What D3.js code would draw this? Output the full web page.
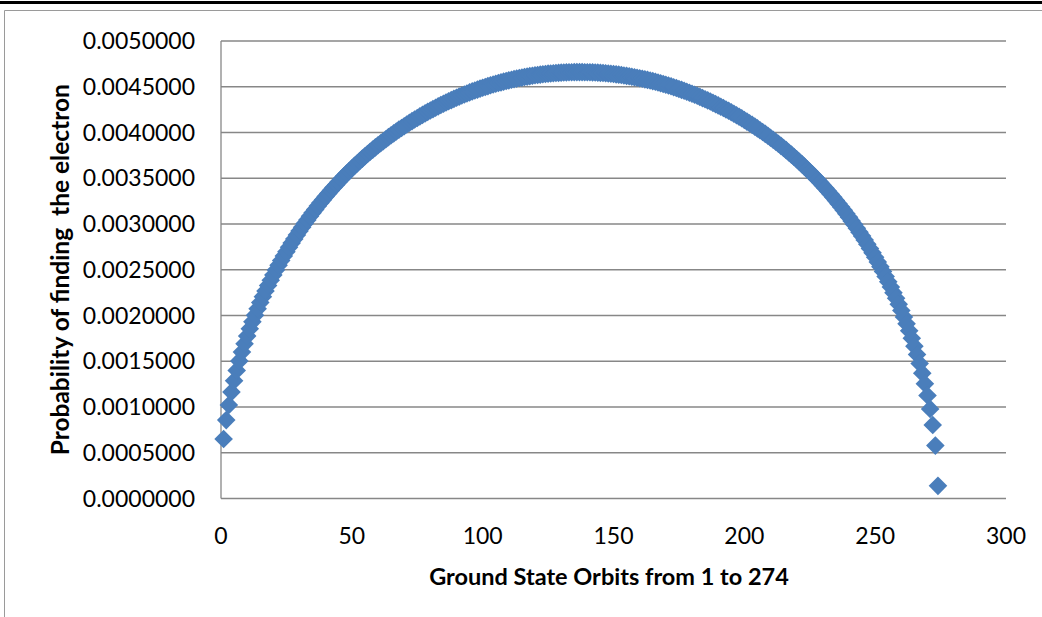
<!DOCTYPE html>
<html>
<head>
<meta charset="utf-8">
<script src="https://cdn.jsdelivr.net/npm/d3@7"></script>
<style>
  body { margin: 0; background: #fff; }
  text { font-family: Lato, "Open Sans", sans-serif; fill: #000; }
</style>
</head>
<body>
<div id="chart"></div>
<script>
// orbit number 1..274 on the x axis
const orbits = d3.range(1, 275)

// probability, orbit 1 to 274
const probability = [
  0.000650, 0.000857, 0.001022, 0.001163, 0.001287, 0.001400, 0.001504, 0.001600, 0.001690, 0.001775,
  0.001855, 0.001931, 0.002004, 0.002074, 0.002141, 0.002206, 0.002268, 0.002328, 0.002386, 0.002442,
  0.002496, 0.002549, 0.002600, 0.002650, 0.002698, 0.002745, 0.002791, 0.002836, 0.002880, 0.002923,
  0.002964, 0.003005, 0.003045, 0.003084, 0.003122, 0.003159, 0.003196, 0.003231, 0.003266, 0.003300,
  0.003334, 0.003367, 0.003399, 0.003430, 0.003461, 0.003492, 0.003521, 0.003551, 0.003579, 0.003607,
  0.003635, 0.003662, 0.003688, 0.003714, 0.003740, 0.003765, 0.003789, 0.003813, 0.003837, 0.003860,
  0.003883, 0.003905, 0.003927, 0.003949, 0.003970, 0.003990, 0.004011, 0.004031, 0.004050, 0.004069,
  0.004088, 0.004106, 0.004124, 0.004142, 0.004159, 0.004176, 0.004193, 0.004209, 0.004225, 0.004241,
  0.004256, 0.004271, 0.004286, 0.004300, 0.004314, 0.004328, 0.004341, 0.004354, 0.004367, 0.004380,
  0.004392, 0.004404, 0.004415, 0.004427, 0.004438, 0.004449, 0.004459, 0.004469, 0.004479, 0.004489,
  0.004498, 0.004507, 0.004516, 0.004524, 0.004533, 0.004541, 0.004548, 0.004556, 0.004563, 0.004570,
  0.004576, 0.004583, 0.004589, 0.004595, 0.004600, 0.004606, 0.004611, 0.004616, 0.004620, 0.004625,
  0.004629, 0.004633, 0.004636, 0.004639, 0.004643, 0.004645, 0.004648, 0.004650, 0.004652, 0.004654,
  0.004656, 0.004657, 0.004658, 0.004659, 0.004660, 0.004660,
  0.004660, 0.004660, 0.004659, 0.004659, 0.004658, 0.004657, 0.004655, 0.004654, 0.004652, 0.004650,
  0.004647, 0.004645, 0.004642, 0.004639, 0.004635, 0.004632, 0.004628, 0.004623, 0.004619, 0.004614,
  0.004610, 0.004604, 0.004599, 0.004593, 0.004587, 0.004581, 0.004575, 0.004568, 0.004561, 0.004554,
  0.004546, 0.004538, 0.004530, 0.004522, 0.004513, 0.004505, 0.004495, 0.004486, 0.004476, 0.004466,
  0.004456, 0.004446, 0.004435, 0.004424, 0.004412, 0.004401, 0.004389, 0.004376, 0.004364, 0.004351,
  0.004338, 0.004324, 0.004310, 0.004296, 0.004282, 0.004267, 0.004252, 0.004237, 0.004221, 0.004205,
  0.004188, 0.004172, 0.004155, 0.004137, 0.004119, 0.004101, 0.004083, 0.004064, 0.004045, 0.004025,
  0.004005, 0.003985, 0.003964, 0.003943, 0.003921, 0.003899, 0.003877, 0.003854, 0.003830, 0.003807,
  0.003782, 0.003758, 0.003733, 0.003707, 0.003681, 0.003654, 0.003627, 0.003599, 0.003571, 0.003542,
  0.003513, 0.003483, 0.003453, 0.003422, 0.003390, 0.003358, 0.003325, 0.003291, 0.003256, 0.003221,
  0.003185, 0.003149, 0.003111, 0.003073, 0.003034, 0.002994, 0.002953, 0.002911, 0.002868, 0.002824,
  0.002779, 0.002732, 0.002685, 0.002636, 0.002586, 0.002534, 0.002481, 0.002426, 0.002369, 0.002311,
  0.002250, 0.002188, 0.002123, 0.002055, 0.001984, 0.001910, 0.001833, 0.001752, 0.001665, 0.001574,
  0.001476, 0.001370, 0.001254, 0.001125, 0.000979, 0.000804, 0.000578, 0.000138
]

const xTicks = [0, 50, 100, 150, 200, 250, 300]
const yTicks = [0, 0.0005, 0.001, 0.0015, 0.002, 0.0025, 0.003, 0.0035, 0.004, 0.0045, 0.005]

const xTitle = "Ground State Orbits from 1 to 274"
const yTitle = "Probability of finding  the electron"

const width = 1042
const height = 617
const plot = { left: 221, right: 1006, top: 41, bottom: 498.5 }

const svg = d3.select("#chart")
  .append("svg")
  .attr("width", width)
  .attr("height", height)

// page frame: thick black rule on top, thin grey box
svg.append("rect")
  .attr("x", 0).attr("y", 1)
  .attr("width", width).attr("height", 3)
  .attr("fill", "#000")
svg.append("path")
  .attr("d", `M4.5,${height} V10.5 H${width}`)
  .attr("fill", "none")
  .attr("stroke", "#9a9a9a")
  .attr("stroke-width", 1)

const x = d3.scaleLinear().domain([0, 300]).range([plot.left, plot.right])
const y = d3.scaleLinear().domain([0, 0.005]).range([plot.bottom, plot.top])

// horizontal gridlines
svg.append("g")
  .selectAll("line")
  .data(yTicks)
  .enter()
  .append("line")
  .attr("x1", plot.left)
  .attr("x2", plot.right)
  .attr("y1", (d) => y(d))
  .attr("y2", (d) => y(d))
  .attr("stroke", "#878787")
  .attr("stroke-width", 1.3)

// y axis line
svg.append("line")
  .attr("x1", plot.left).attr("x2", plot.left)
  .attr("y1", plot.top).attr("y2", plot.bottom)
  .attr("stroke", "#878787")
  .attr("stroke-width", 1.3)

// y tick labels
svg.append("g")
  .selectAll("text")
  .data(yTicks)
  .enter()
  .append("text")
  .attr("x", 195)
  .attr("y", (d) => y(d))
  .attr("dy", "0.35em")
  .attr("text-anchor", "end")
  .style("font-size", "23px")
  .text((d) => d3.format(".7f")(d))

// x tick labels
svg.append("g")
  .selectAll("text")
  .data(xTicks)
  .enter()
  .append("text")
  .attr("x", (d) => x(d))
  .attr("y", 544)
  .attr("text-anchor", "middle")
  .style("font-size", "23px")
  .text((d) => d)

// axis titles
svg.append("text")
  .attr("x", 609)
  .attr("y", 585)
  .attr("text-anchor", "middle")
  .style("font-size", "23.5px")
  .style("font-weight", "bold")
  .text(xTitle)

svg.append("text")
  .attr("transform", `translate(69, ${(plot.top + plot.bottom) / 2}) rotate(-90)`)
  .attr("text-anchor", "middle")
  .style("font-size", "24.5px")
  .style("font-weight", "bold")
  .style("white-space", "pre")
  .text(yTitle)

// diamond markers
const r = 9.3
svg.append("g")
  .selectAll("path")
  .data(orbits.map((n, i) => ({ n, p: probability[i] })))
  .enter()
  .append("path")
  .attr("transform", (d) => `translate(${x(d.n)}, ${y(d.p)})`)
  .attr("d", `M0,${-r} L${r},0 L0,${r} L${-r},0 Z`)
  .attr("fill", "#4a7ebb")
</script>
</body>
</html>
